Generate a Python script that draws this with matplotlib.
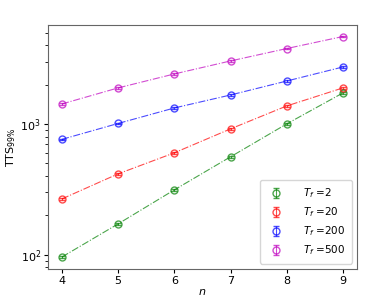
import numpy as np
import matplotlib
matplotlib.use("Agg")
import matplotlib.pyplot as plt

# system sizes
n = [4, 5, 6, 7, 8, 9]

# TTS_99% for each final time T_f
tts_2 = [96, 172, 313, 560, 1000, 1725]
tts_20 = [267, 415, 601, 916, 1372, 1885]
tts_200 = [762, 1008, 1324, 1664, 2128, 2725]
tts_500 = [1421, 1885, 2410, 3030, 3770, 4660]

err_2 = [2, 3, 5, 8, 15, 25]
err_20 = [4, 6, 9, 14, 20, 28]
err_200 = [10, 14, 18, 24, 30, 40]
err_500 = [20, 26, 34, 42, 52, 65]

series = [(tts_2, err_2, 'g', r'$T_f$ =2'),
          (tts_20, err_20, 'r', r'$T_f$ =20'),
          (tts_200, err_200, 'b', r'$T_f$ =200'),
          (tts_500, err_500, 'm', r'$T_f$ =500')]

plt.rcParams['axes.edgecolor'] = '0.4'

fig, ax = plt.subplots(figsize=(3.83, 3.02), dpi=100)

for y, e, c, lab in series:
    ax.errorbar(n, y, yerr=e, color=c, fmt='o', mfc='none', ms=5,
                capsize=2, elinewidth=0.8, alpha=0.7, label=lab)
    ax.plot(n, y, '-.', color=c, lw=0.8, alpha=0.7)

ax.set_yscale('log')
ax.set_ylim(78, 5700)
ax.set_xlim(3.75, 9.25)
ax.set_xticks(n)
ax.set_xlabel(r'$n$', fontsize=8, labelpad=1)
ax.set_ylabel(r'TTS$_{99\%}$', fontsize=8, labelpad=2)
ax.tick_params(labelsize=8, length=3, pad=2)
ax.legend(loc='lower right', fontsize=7.5, handletextpad=1.6, borderpad=0.6,
          labelspacing=0.5)

plt.subplots_adjust(left=0.125, right=0.932, top=0.917, bottom=0.11)
plt.savefig('out.png', dpi=100)
